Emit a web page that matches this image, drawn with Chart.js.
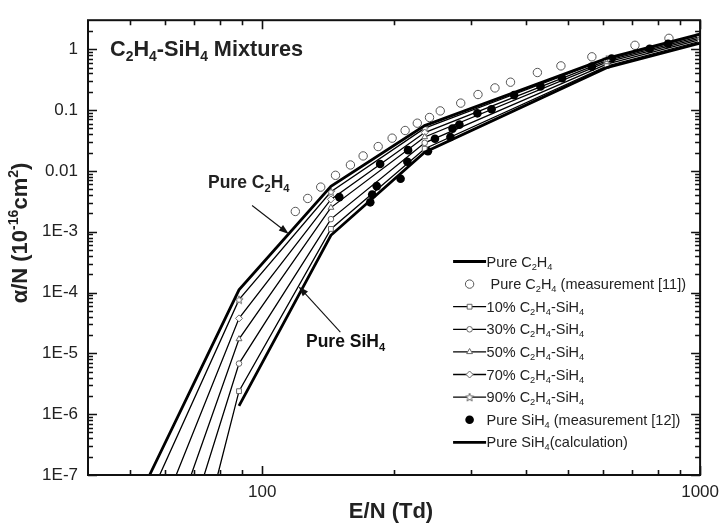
<!DOCTYPE html>
<html>
<head>
<meta charset="utf-8">
<script src="https://cdn.jsdelivr.net/npm/chart.js@4.4.1/dist/chart.umd.min.js"></script>
<style>
  html, body { margin: 0; padding: 0; background: #fff; }
  canvas { display: block; }
</style>
</head>
<body>
<canvas id="chart" width="726" height="523"></canvas>
<script>
// E/N (Td) of the calculated points
const calcE = [88.5, 143.5, 235, 612, 1000];
// E/N where each curve leaves the bottom of the plot (alpha/N = 1E-7)
// order: pure C2H4, 90%, 70%, 50%, 30%, 10%
const onsetE = [55.3, 58.3, 63.6, 68.8, 73.7, 79.1];
const onsetAlpha = 1e-7;

// alpha/N (1E-16 cm2) at calcE
const pureC2H4 = [1.11e-4, 5.57e-3, 0.0555, 0.709, 1.77];
const mix90 = [7.63e-5, 4.53e-3, 0.0504, 0.684, 1.70];
const mix70 = [3.76e-5, 3.40e-3, 0.0426, 0.647, 1.61];
const mix50 = [1.72e-5, 2.49e-3, 0.0361, 0.611, 1.52];
const mix30 = [6.79e-6, 1.61e-3, 0.0289, 0.567, 1.44];
const mix10 = [2.39e-6, 1.11e-3, 0.0231, 0.527, 1.34];
const pureSiH4 = [1.37e-6, 8.73e-4, 0.0203, 0.498, 1.26];

// measurements
const measC2H4E = [119, 127, 136, 147, 159, 170, 184, 198, 212, 226, 241, 255, 284, 311, 340, 369, 425, 481, 566, 710, 849];
const measC2H4 = [2.15e-3, 3.52e-3, 5.41e-3, 8.45e-3, 0.0125, 0.0176, 0.0251, 0.0345, 0.0461, 0.0608, 0.0755, 0.0968, 0.130, 0.180, 0.231, 0.287, 0.414, 0.532, 0.750, 1.16, 1.51];
const measSiH4E = [150, 176.5, 178.3, 182.6, 185.9, 207, 214.5, 215.3, 239, 248, 269, 272, 282, 310, 334, 376, 432, 484, 566, 628, 767, 845];
const measSiH4 = [3.70e-3, 3.04e-3, 4.09e-3, 5.61e-3, 0.0130, 7.43e-3, 0.0141, 0.0219, 0.0210, 0.0338, 0.0361, 0.0495, 0.0575, 0.0883, 0.103, 0.176, 0.245, 0.334, 0.518, 0.705, 1.02, 1.23];

// axes
const xMajor = [100, 1000];
const xMinor = [50, 60, 70, 80, 90, 200, 300, 400, 500, 600, 700, 800, 900];
const yMajor = [1e-7, 1e-6, 1e-5, 1e-4, 1e-3, 0.01, 0.1, 1];
const yLabels = ['1E-7', '1E-6', '1E-5', '1E-4', '1E-3', '0.01', '0.1', '1'];
const yMin = 1e-7, yMax = 3;
const yMinor = yMajor.flatMap(d => [2, 3, 4, 5, 6, 7, 8, 9].map(k => k * d)).filter(v => v < yMax);

const FONT = '"Liberation Sans", Arial, sans-serif';
const INK = '#222';

function curve(onset, vals) {
  const pts = [];
  if (onset) pts.push({ x: onset, y: onsetAlpha });
  calcE.forEach((e, i) => pts.push({ x: e, y: vals[i] }));
  return pts;
}

// small 5-point star used as marker for 90%
function starImage() {
  const c = document.createElement('canvas');
  c.width = 10; c.height = 10;
  const g = c.getContext('2d');
  g.beginPath();
  for (let i = 0; i < 10; i++) {
    const r = i % 2 ? 1.9 : 4.3;
    const a = -Math.PI / 2 + i * Math.PI / 5;
    g.lineTo(5 + r * Math.cos(a), 5.4 + r * Math.sin(a));
  }
  g.closePath();
  g.fillStyle = '#fff';
  g.fill();
  g.strokeStyle = '#666';
  g.lineWidth = 1;
  g.stroke();
  return c;
}
const star = starImage();

function mixSet(label, onset, vals, style, r) {
  return {
    label: label,
    data: curve(onset, vals),
    showLine: true,
    borderColor: '#000',
    borderWidth: 1.3,
    pointStyle: style,
    pointRadius: [0, r, r, r, r, r],
    pointBorderColor: '#666',
    pointBackgroundColor: '#fff',
    pointBorderWidth: 1,
    order: 2
  };
}

const datasets = [
  {
    label: 'Pure C_2H_4',
    data: curve(onsetE[0], pureC2H4),
    showLine: true, borderColor: '#000', borderWidth: 2.8, pointRadius: 0, order: 1
  },
  {
    label: ' Pure C_2H_4 (measurement [11])',
    data: measC2H4E.map((e, i) => ({ x: e, y: measC2H4[i] })),
    pointStyle: 'circle', pointRadius: 4.2, pointBorderWidth: 1,
    pointBorderColor: '#555', pointBackgroundColor: '#fff', order: 4
  },
  mixSet('10% C_2H_4-SiH_4', onsetE[5], mix10, 'rect', 3.4),
  mixSet('30% C_2H_4-SiH_4', onsetE[4], mix30, 'circle', 2.8),
  mixSet('50% C_2H_4-SiH_4', onsetE[3], mix50, 'triangle', 3.4),
  mixSet('70% C_2H_4-SiH_4', onsetE[2], mix70, 'rectRot', 3.5),
  mixSet('90% C_2H_4-SiH_4', onsetE[1], mix90, star, 4),
  {
    label: 'Pure SiH_4 (measurement [12])',
    data: measSiH4E.map((e, i) => ({ x: e, y: measSiH4[i] })),
    pointStyle: 'circle', pointRadius: 4.3, pointBorderWidth: 0,
    pointBackgroundColor: '#000', order: 3
  },
  {
    label: 'Pure SiH_4(calculation)',
    data: calcE.map((e, i) => ({ x: e, y: pureSiH4[i] })),
    showLine: true, borderColor: '#000', borderWidth: 2.8, pointRadius: 0, order: 1
  }
];

// text with _sub and ^sup parts
function richText(ctx, str, x, y, size, bold, align) {
  const parts = [];
  let i = 0;
  while (i < str.length) {
    const c = str[i];
    if (c === '_' || c === '^') {
      let t;
      if (str[i + 1] === '{') {
        const j = str.indexOf('}', i);
        t = str.slice(i + 2, j);
        i = j + 1;
      } else {
        t = str[i + 1];
        i += 2;
      }
      parts.push({ t: t, mode: c });
    } else {
      let j = i;
      while (j < str.length && str[j] !== '_' && str[j] !== '^') j++;
      parts.push({ t: str.slice(i, j), mode: '' });
      i = j;
    }
  }
  const font = s => (bold ? 'bold ' : '') + s + 'px ' + FONT;
  let w = 0;
  parts.forEach(p => {
    p.s = p.mode ? size * 0.64 : size;
    ctx.font = font(p.s);
    p.w = ctx.measureText(p.t).width;
    w += p.w;
  });
  let cx = align === 'center' ? x - w / 2 : x;
  ctx.textAlign = 'left';
  ctx.textBaseline = 'alphabetic';
  parts.forEach(p => {
    ctx.font = font(p.s);
    const dy = p.mode === '_' ? size * 0.22 : p.mode === '^' ? -size * 0.42 : 0;
    ctx.fillText(p.t, cx, y + dy);
    cx += p.w;
  });
}

function arrow(ctx, x1, y1, x2, y2) {
  const a = Math.atan2(y2 - y1, x2 - x1);
  ctx.beginPath();
  ctx.moveTo(x1, y1);
  ctx.lineTo(x2 - 6 * Math.cos(a), y2 - 6 * Math.sin(a));
  ctx.lineWidth = 1.1;
  ctx.strokeStyle = '#111';
  ctx.stroke();
  ctx.beginPath();
  ctx.moveTo(x2, y2);
  ctx.lineTo(x2 - 10 * Math.cos(a) + 3.5 * Math.sin(a), y2 - 10 * Math.sin(a) - 3.5 * Math.cos(a));
  ctx.lineTo(x2 - 10 * Math.cos(a) - 3.5 * Math.sin(a), y2 - 10 * Math.sin(a) + 3.5 * Math.cos(a));
  ctx.closePath();
  ctx.fillStyle = '#111';
  ctx.fill();
}

const decor = {
  id: 'decor',
  afterDraw(chart) {
    const ctx = chart.ctx;
    const area = chart.chartArea;
    const xs = chart.scales.x, ys = chart.scales.y;
    ctx.save();

    // frame
    ctx.strokeStyle = '#111';
    ctx.lineWidth = 2;
    ctx.strokeRect(area.left, area.top, area.right - area.left, area.bottom - area.top);

    // inward ticks, mirrored on all sides
    ctx.lineWidth = 1.6;
    const xt = (v, len) => {
      const p = Math.round(xs.getPixelForValue(v)) + 0.5;
      ctx.beginPath();
      ctx.moveTo(p, area.bottom); ctx.lineTo(p, area.bottom - len);
      ctx.moveTo(p, area.top); ctx.lineTo(p, area.top + len);
      ctx.stroke();
    };
    const yt = (v, len) => {
      const p = Math.round(ys.getPixelForValue(v)) + 0.5;
      ctx.beginPath();
      ctx.moveTo(area.left, p); ctx.lineTo(area.left + len, p);
      ctx.moveTo(area.right, p); ctx.lineTo(area.right - len, p);
      ctx.stroke();
    };
    xMajor.forEach(v => xt(v, 9));
    xMinor.forEach(v => xt(v, 5));
    yMajor.forEach(v => yt(v, 9));
    yMinor.forEach(v => yt(v, 5));

    ctx.fillStyle = INK;
    // axis titles
    richText(ctx, 'E/N (Td)', 391, 518, 22, true, 'center');
    ctx.save();
    ctx.translate(27, 233);
    ctx.rotate(-Math.PI / 2);
    richText(ctx, '\u03b1/N (10^{-16}cm^2)', 0, 0, 22, true, 'center');
    ctx.restore();

    // panel title
    richText(ctx, 'C_2H_4-SiH_4 Mixtures', area.left + 22, area.top + 36, 21.7, true, 'left');

    // labels with arrows
    const px = (e, a) => [xs.getPixelForValue(e), ys.getPixelForValue(a)];
    richText(ctx, 'Pure C_2H_4', 208, 188, 17.5, true, 'left');
    const c1 = px(94.8, 2.7e-3), c2 = px(115, 9.2e-4);
    arrow(ctx, c1[0], c1[1], c2[0], c2[1]);
    richText(ctx, 'Pure SiH_4', 306, 347, 17.5, true, 'left');
    const s1 = px(150.8, 2.24e-5), s2 = px(121.1, 1.26e-4);
    arrow(ctx, s1[0], s1[1], s2[0], s2[1]);

    // legend
    const lx0 = area.right - 247, lx1 = area.right - 214;
    let ly = area.bottom - 213.5;
    chart.data.datasets.forEach(ds => {
      const r = Array.isArray(ds.pointRadius) ? Math.max(...ds.pointRadius) : ds.pointRadius;
      if (ds.showLine) {
        ctx.beginPath();
        ctx.moveTo(lx0, ly); ctx.lineTo(lx1, ly);
        ctx.lineWidth = ds.borderWidth;
        ctx.strokeStyle = '#000';
        ctx.stroke();
      }
      if (r > 0) {
        const mx = (lx0 + lx1) / 2;
        if (ds.pointStyle instanceof HTMLCanvasElement) {
          ctx.drawImage(ds.pointStyle, mx - ds.pointStyle.width / 2, ly - ds.pointStyle.height / 2);
        } else {
          ctx.fillStyle = ds.pointBackgroundColor;
          ctx.strokeStyle = ds.pointBorderColor || ds.pointBackgroundColor;
          ctx.lineWidth = ds.pointBorderWidth || 0;
          Chart.helpers.drawPoint(ctx, {
            pointStyle: ds.pointStyle, radius: r, rotation: 0, borderWidth: ds.pointBorderWidth || 0
          }, mx, ly);
        }
      }
      ctx.fillStyle = INK;
      richText(ctx, ds.label, lx1 + 0.5, ly + 5, 14.5, false, 'left');
      ly += 22.6;
    });

    ctx.restore();
  }
};

new Chart(document.getElementById('chart'), {
  type: 'scatter',
  data: { datasets: datasets },
  plugins: [decor],
  options: {
    responsive: false,
    animation: false,
    layout: { padding: { top: 12, right: 22, left: 0, bottom: 0 } },
    plugins: { legend: { display: false }, tooltip: { enabled: false } },
    scales: {
      x: {
        type: 'logarithmic',
        min: 40, max: 1000, bounds: 'data',
        grid: { display: false, drawTicks: false },
        border: { display: false },
        afterBuildTicks: s => { s.ticks = xMinor.concat(xMajor).sort((a, b) => a - b).map(v => ({ value: v })); },
        afterFit: s => { s.height = 48; },
        ticks: {
          autoSkip: false, maxRotation: 0, padding: 7, color: INK,
          font: { family: FONT, size: 17 },
          callback: v => xMajor.includes(v) ? String(v) : ''
        }
      },
      y: {
        type: 'logarithmic',
        min: yMin, max: yMax, bounds: 'data',
        grid: { display: false, drawTicks: false },
        border: { display: false },
        afterBuildTicks: s => { s.ticks = yMajor.concat(yMinor).sort((a, b) => a - b).map(v => ({ value: v })); },
        afterFit: s => { s.width = 88; },
        ticks: {
          autoSkip: false, padding: 10, color: INK,
          font: { family: FONT, size: 17 },
          callback: v => {
            const i = yMajor.findIndex(m => Math.abs(Math.log10(m) - Math.log10(v)) < 1e-6);
            return i >= 0 ? yLabels[i] : '';
          }
        }
      }
    }
  }
});
</script>
</body>
</html>
